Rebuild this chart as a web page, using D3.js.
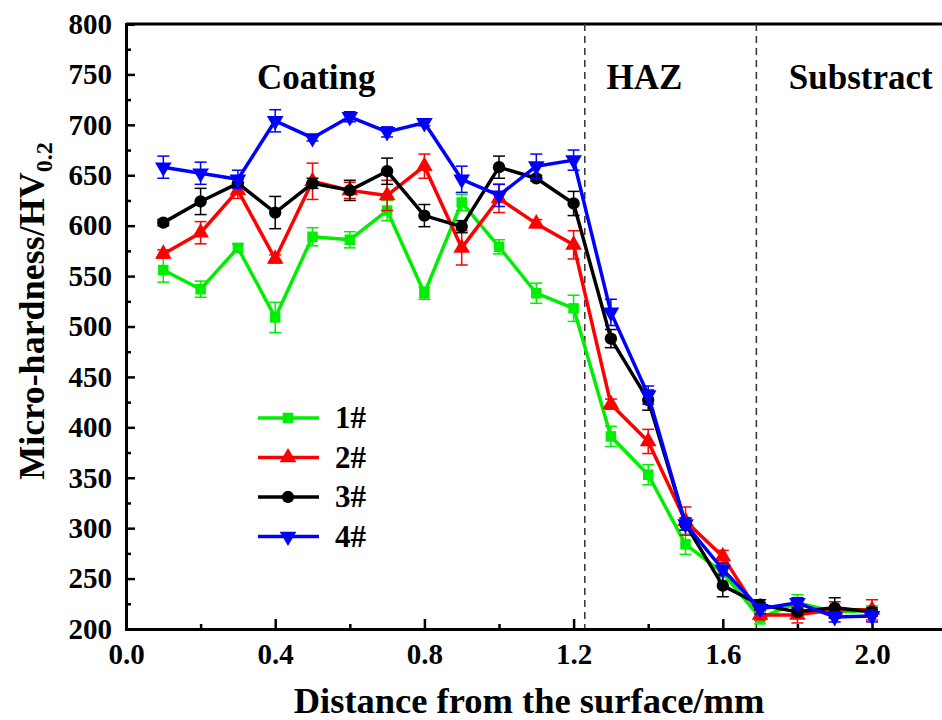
<!DOCTYPE html>
<html lang="en">
<head>
<meta charset="utf-8">
<title>Micro-hardness</title>
<script src="https://cdn.jsdelivr.net/npm/d3@7"></script>
<style>
body { margin: 0; background: #fff; }
svg text { font-family: "Liberation Serif", "Times New Roman", serif; font-weight: bold; fill: #000; }
.axis path { stroke: #000; stroke-width: 3px; }
.axis line { stroke: #000; stroke-width: 2.5px; }
.axis text { font-size: 29px; font-family: "Liberation Serif", "Times New Roman", serif; }
</style>
</head>
<body>
<script>
var w = 942, h = 720;

var distance = [0.1, 0.2, 0.3, 0.4, 0.5, 0.6, 0.7, 0.8, 0.9, 1.0,
                1.1, 1.2, 1.3, 1.4, 1.5, 1.6, 1.7, 1.8, 1.9, 2.0];
var seriesNames = ["1#", "2#", "3#", "4#"];
var hv1 = [556, 537, 578, 509, 589, 586, 615, 533, 623, 579, 533, 518, 391, 353, 284, 256, 211, 226, 217, 218];
var err1 = [12, 8, 4, 15, 9, 8, 10, 6, 8, 7, 10, 13, 10, 10, 10, 8, 6, 8, 5, 5];
var hv2 = [572, 593, 635, 567, 644, 635, 630, 659, 578, 627, 602, 581, 423, 386, 307, 272, 214, 214, 219, 219];
var err2 = [4, 11, 8, 4, 18, 8, 15, 12, 17, 14, 4, 14, 5, 12, 14, 6, 5, 8, 8, 10];
var hv3 = [603, 624, 642, 613, 642, 635, 654, 610, 599, 658, 647, 622, 488, 427, 304, 243, 224, 217, 221, 217];
var err3 = [3, 13, 4, 16, 5, 10, 13, 11, 6, 11, 3, 12, 9, 10, 6, 11, 5, 3, 10, 4];
var hv4 = [658, 652, 646, 704, 687, 708, 693, 702, 646, 630, 659, 665, 514, 432, 304, 259, 220, 226, 212, 213];
var err4 = [11, 11, 9, 11, 3, 5, 5, 3, 13, 11, 12, 10, 13, 9, 6, 6, 5, 5, 5, 6];

var xTicks = [0.0, 0.4, 0.8, 1.2, 1.6, 2.0];
var xMinor = [0.2, 0.6, 1.0, 1.4, 1.8];
var yTicks = [200, 250, 300, 350, 400, 450, 500, 550, 600, 650, 700, 750, 800];
var yMinor = [225, 275, 325, 375, 425, 475, 525, 575, 625, 675, 725, 775];
var boundaries = [1.23, 1.69];
var zoneNames = ["Coating", "HAZ", "Substract"];
var zoneCenters = [0.51, 1.39, 1.97];

var colors = ["#00ee00", "#ff0000", "#000000", "#0000ff"];
var allValues = [hv1, hv2, hv3, hv4];
var allErrors = [err1, err2, err3, err4];

var plotLeft = 126, plotTop = 24, plotBottom = 629;

var xScale = d3.scaleLinear().domain([0, 2.2]).range([plotLeft, plotLeft + 2.2 * 373]);
var yScale = d3.scaleLinear().domain([200, 800]).range([plotBottom, plotTop]);

var svg = d3.select("body").append("svg")
            .attr("width", w)
            .attr("height", h);

// top frame line
svg.append("line")
   .attr("x1", plotLeft).attr("x2", w)
   .attr("y1", plotTop).attr("y2", plotTop)
   .attr("stroke", "#000").attr("stroke-width", 3);

// zone boundaries
svg.selectAll(".bound")
   .data(boundaries)
   .enter()
   .append("line")
   .attr("class", "bound")
   .attr("x1", function(d) { return xScale(d); })
   .attr("x2", function(d) { return xScale(d); })
   .attr("y1", plotTop)
   .attr("y2", plotBottom)
   .attr("stroke", "#333")
   .attr("stroke-width", 1.5)
   .attr("stroke-dasharray", "7,5");

svg.selectAll(".zone")
   .data(zoneNames)
   .enter()
   .append("text")
   .attr("class", "zone")
   .attr("x", function(d, i) { return xScale(zoneCenters[i]); })
   .attr("y", 89)
   .attr("text-anchor", "middle")
   .attr("font-size", "35px")
   .text(function(d) { return d; });

// axes
var xAxis = d3.axisBottom(xScale).tickValues(xTicks).tickSize(-10).tickPadding(14)
              .tickFormat(d3.format(".1f"));
var xAxisMinor = d3.axisBottom(xScale).tickValues(xMinor).tickSize(-5).tickFormat("");
var yAxis = d3.axisLeft(yScale).tickValues(yTicks).tickSize(-9).tickPadding(14);
var yAxisMinor = d3.axisLeft(yScale).tickValues(yMinor).tickSize(-5).tickFormat("");

svg.append("g").attr("class", "axis")
   .attr("transform", "translate(0," + plotBottom + ")")
   .call(xAxisMinor);
svg.append("g").attr("class", "axis")
   .attr("transform", "translate(0," + plotBottom + ")")
   .call(xAxis);
svg.append("g").attr("class", "axis")
   .attr("transform", "translate(" + plotLeft + ",0)")
   .call(yAxisMinor);
svg.append("g").attr("class", "axis")
   .attr("transform", "translate(" + plotLeft + ",0)")
   .call(yAxis);
// keep the axis lines plain (no outer end ticks)
svg.selectAll(".axis .domain").attr("d", function() {
  return d3.select(this).attr("d").replace(/V-?6|H-?6/g, "");
});

// axis titles
svg.append("text")
   .attr("x", 529)
   .attr("y", 713)
   .attr("text-anchor", "middle")
   .attr("font-size", "36.5px")
   .text("Distance from the surface/mm");

var yTitle = svg.append("text")
   .attr("transform", "translate(44,311) rotate(-90)")
   .attr("text-anchor", "middle")
   .attr("font-size", "36px");
yTitle.append("tspan").text("Micro-hardness/HV");
yTitle.append("tspan").attr("font-size", "24px").attr("dy", 8).text("0.2");

// symbols
var symbols = [
  d3.symbol().type(d3.symbolSquare).size(110),
  d3.symbol().type(d3.symbolTriangle).size(120),
  d3.symbol().type(d3.symbolCircle).size(120),
  d3.symbol().type(d3.symbolTriangle).size(120)
];
var rotations = [0, 0, 0, 180];

var line = d3.line()
             .x(function(d, i) { return xScale(distance[i]); })
             .y(function(d) { return yScale(d); });

allValues.forEach(function(vals, s) {
  var g = svg.append("g");
  var errs = allErrors[s];

  g.append("path")
   .datum(vals)
   .attr("d", line)
   .attr("fill", "none")
   .attr("stroke", colors[s])
   .attr("stroke-width", 3.5)
   .attr("stroke-linejoin", "round");

  var eb = g.selectAll(".eb")
            .data(vals)
            .enter()
            .append("g");
  eb.append("line")
    .attr("x1", function(d, i) { return xScale(distance[i]); })
    .attr("x2", function(d, i) { return xScale(distance[i]); })
    .attr("y1", function(d, i) { return yScale(d - errs[i]); })
    .attr("y2", function(d, i) { return yScale(d + errs[i]); })
    .attr("stroke", colors[s]).attr("stroke-width", 1.5);
  [-1, 1].forEach(function(sign) {
    eb.append("line")
      .attr("x1", function(d, i) { return xScale(distance[i]) - 6; })
      .attr("x2", function(d, i) { return xScale(distance[i]) + 6; })
      .attr("y1", function(d, i) { return yScale(d + sign * errs[i]); })
      .attr("y2", function(d, i) { return yScale(d + sign * errs[i]); })
      .attr("stroke", colors[s]).attr("stroke-width", 1.5);
  });

  g.selectAll(".mk")
   .data(vals)
   .enter()
   .append("path")
   .attr("d", symbols[s])
   .attr("fill", colors[s])
   .attr("transform", function(d, i) {
     return "translate(" + xScale(distance[i]) + "," + yScale(d) + ") rotate(" + rotations[s] + ")";
   });
});

// legend
var legend = svg.append("g").attr("transform", "translate(258,418)");
seriesNames.forEach(function(name, s) {
  var row = legend.append("g").attr("transform", "translate(0," + (s * 39.5) + ")");
  row.append("line")
     .attr("x1", 0).attr("x2", 61)
     .attr("y1", 0).attr("y2", 0)
     .attr("stroke", colors[s]).attr("stroke-width", 3.5);
  row.append("path")
     .attr("d", symbols[s])
     .attr("fill", colors[s])
     .attr("transform", "translate(30,0) rotate(" + rotations[s] + ")");
  row.append("text")
     .attr("x", 77)
     .attr("y", 10)
     .attr("font-size", "31px")
     .text(name);
});
</script>
</body>
</html>
